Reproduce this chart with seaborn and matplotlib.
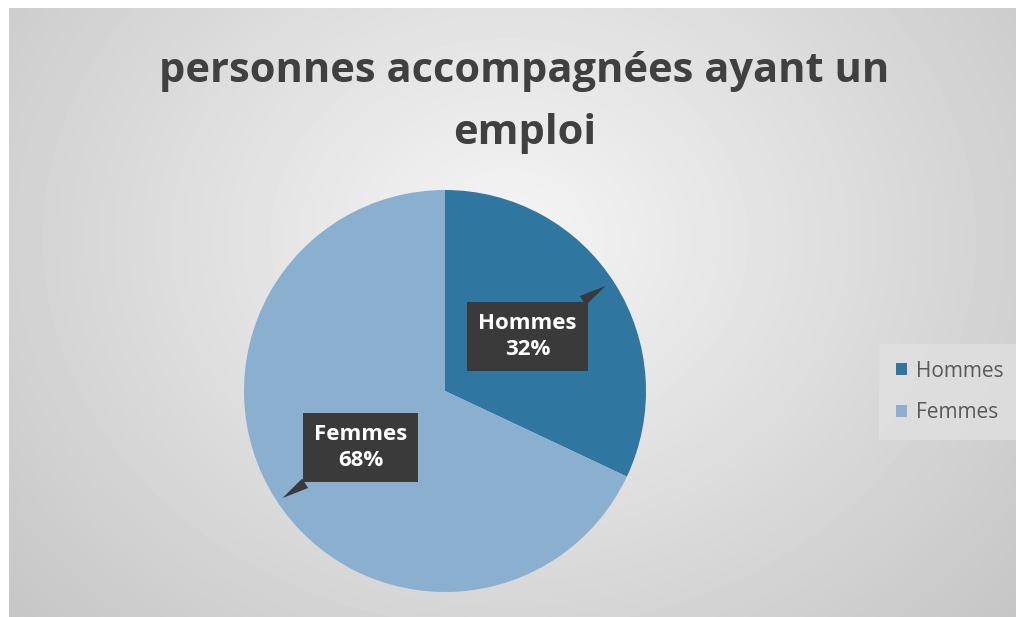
import numpy as np
import matplotlib.pyplot as plt
import seaborn as sns
from matplotlib.patches import Patch

categories = ['Hommes', 'Femmes']
parts      = [32, 68]
colors     = ['#2f76a1', '#8aafcf']
title_lines = ['personnes accompagnées ayant un', 'emploi']

sns.set_theme(style='white')
plt.rcParams['font.family'] = ['Open Sans', 'DejaVu Sans']

W, H = 1016, 617
fig = plt.figure(figsize=(W / 100, H / 100), dpi=100)
fig.patch.set_facecolor('white')

# fond gris en dégradé radial
bg = fig.add_axes([9 / W, 0, 1 - 9 / W, 1 - 8 / H])
yy, xx = np.mgrid[0:609, 0:1007]
d = np.sqrt(((xx - 500) / 620) ** 2 + ((yy - 230) / 520) ** 2)
grad = np.clip(0.96 - 0.17 * d, 0.76, 0.96)
bg.imshow(grad, cmap='gray', vmin=0, vmax=1, aspect='auto', interpolation='bilinear')
bg.set_axis_off()

for ligne, ypx in zip(title_lines, [72, 133]):
    fig.text(0.516, 1 - ypx / H, ligne, ha='center', va='center',
             fontsize=30, fontweight='bold', color='#404040')

cx, cy, r = 445, 391, 201
lim = 1.05
ax = fig.add_axes([(cx - r * lim) / W, (H - cy - r * lim) / H, 2 * r * lim / W, 2 * r * lim / H])
wedges, _ = ax.pie(parts, colors=colors, startangle=90, counterclock=False,
                   wedgeprops=dict(linewidth=0))
ax.set_xlim(-lim, lim)
ax.set_ylim(-lim, lim)
ax.set_axis_off()

box_pos = [(0.41, 0.27), (-0.42, -0.28)]
tips    = [(0.81, 0.53), (-0.82, -0.54)]
for cat, p, bp, tp in zip(categories, parts, box_pos, tips):
    ax.annotate(f'{cat}\n{p}%', xy=tp, xytext=bp, ha='center', va='center',
                fontsize=16, fontweight='bold', color='white', linespacing=1.3,
                bbox=dict(boxstyle='square,pad=0.5', fc='#3b3a3a', ec='none'),
                arrowprops=dict(arrowstyle='wedge,tail_width=0.5,shrink_factor=0.5',
                                fc='#3b3a3a', ec='none'))

handles = [Patch(facecolor=c, edgecolor='none') for c in colors]
leg = fig.legend(handles, categories, loc='center left', bbox_to_anchor=(879 / W, 1 - 392 / H),
                 frameon=True, fancybox=False, fontsize=15, handlelength=0.55, handleheight=0.55,
                 handletextpad=0.45, labelspacing=1.0, borderpad=0.8, borderaxespad=0)
leg.get_frame().set_facecolor('#e0e0e0')
leg.get_frame().set_edgecolor('none')
for t in leg.get_texts():
    t.set_color('#595959')

plt.savefig('out.png', dpi=100)
